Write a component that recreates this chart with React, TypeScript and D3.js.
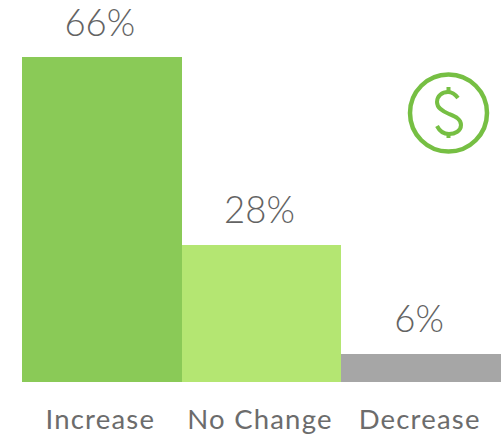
import React from "react";
import * as d3 from "d3";

const categories = ["Increase", "No Change", "Decrease"];
const values = [66, 28, 6];
const colors = ["#8aca57", "#b4e672", "#a6a6a6"];
const FONT = "Lato, 'Open Sans', sans-serif";

export default function App() {
  const x = d3.scaleBand<string>().domain(categories).range([22, 501]);
  const y = d3.scaleLinear().domain([0, 66]).range([383.5, 57]);
  const base = 382;
  return (
    <svg width={502} height={435} style={{ position: "absolute", left: 0, top: 0, background: "#fff" }}>
      {categories.map((c, i) => (
        <g key={c}>
          <rect x={x(c)} y={y(values[i])} width={x.bandwidth()} height={base - y(values[i])} fill={colors[i]} shapeRendering="crispEdges" />
          <text x={x(c)! + x.bandwidth() / 2 - 2} y={y(values[i]) - 21.5} textAnchor="middle" fontFamily={FONT} fontWeight={300} fontSize={36.5} fill="#636363">
            {values[i]}%
          </text>
          <text x={x(c)! + x.bandwidth() / 2 - 1.5} y={429} textAnchor="middle" fontFamily={FONT} fontSize={27.5} letterSpacing={1.2} fontWeight={400} fill="#6c6c6c">
            {c}
          </text>
        </g>
      ))}
      <g fill="none" stroke="#76bf43" strokeWidth={4.5}>
        <circle cx={448.5} cy={113} r={38.5} />
        <path strokeWidth={4} d="M458 98 C455 94 452 92 448 92 C442 92 437 96 437 102 C437 108 442 111 449 114 C456 117 461 119 461 125 C461 131 455 134 449 134 C444 134 440 132 437 126" />
        <path strokeWidth={4} d="M448.5 87 V92 M448.5 134 V138" />
      </g>
    </svg>
  );
}
